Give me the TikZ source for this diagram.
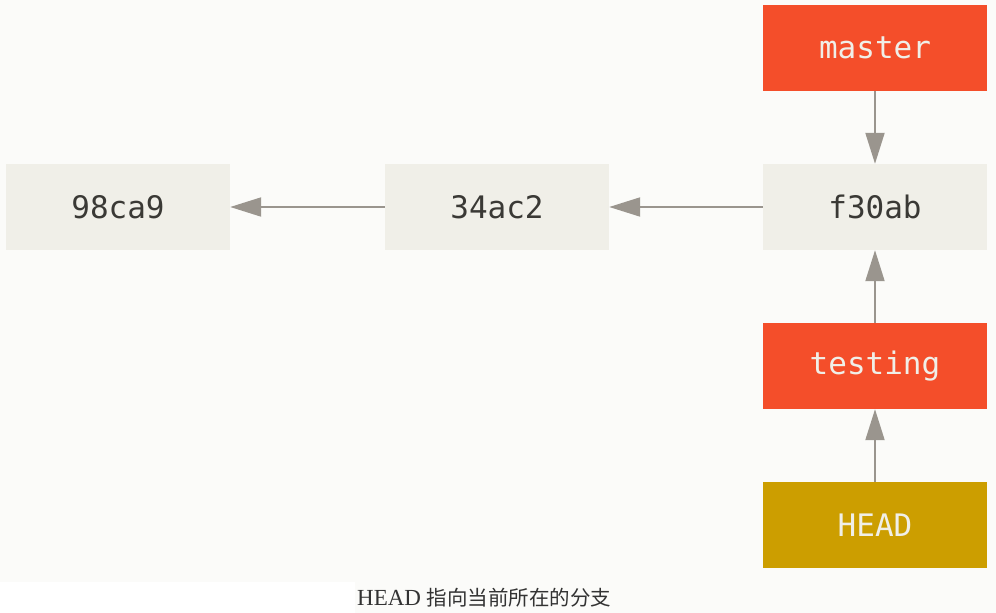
\documentclass[tikz,border=0pt]{standalone}
\usepackage{fontspec}
\setmainfont{Liberation Serif}
\setmonofont{DejaVu Sans Mono}
\newfontfamily\cjk{Noto Sans CJK SC}
\usetikzlibrary{arrows.meta}
\definecolor{bgc}{HTML}{FBFBF9}
\definecolor{commitc}{HTML}{F0EFE8}
\definecolor{branchc}{HTML}{F44E2A}
\definecolor{headc}{HTML}{CC9E00}
\definecolor{darktxt}{HTML}{3A3935}
\definecolor{lighttxt}{HTML}{F0EFE8}
\definecolor{arrowc}{HTML}{9A958E}
\definecolor{captc}{HTML}{333333}
\tikzset{
  box/.style={rectangle, minimum width=224pt, minimum height=86pt, inner sep=0pt, font=\ttfamily\fontsize{31}{31}\selectfont},
  commit/.style={box, fill=commitc, text=darktxt},
  branch/.style={box, fill=branchc, text=lighttxt},
  headbox/.style={box, fill=headc, text=lighttxt},
  link/.style={draw=arrowc, line width=2pt, -{Triangle[length=31pt,width=19pt]}, shorten >=0pt}
}
\begin{document}
\begin{tikzpicture}[x=1pt,y=-1pt]
\fill[bgc] (0,0) rectangle (996,613);
\fill[white] (0,582) rectangle (355,613);
\useasboundingbox (0,0) rectangle (996,613);
\node[commit] (c1) at (118,207) {98ca9};
\node[commit] (c2) at (497,207) {34ac2};
\node[commit] (c3) at (875,207) {f30ab};
\node[branch] (master) at (875,48) {master};
\node[branch] (testing) at (875,366) {testing};
\node[headbox] (head) at (875,525) {HEAD};
\draw[link] (c2.west) -- (c1.east);
\draw[link] (c3.west) -- (c2.east);
\draw[link] (master.south) -- (c3.north);
\draw[link] (testing.north) -- (c3.south);
\draw[link] (head.north) -- (testing.south);
\node[anchor=base west, inner sep=0pt, text=captc, font=\fontsize{23}{23}\selectfont] (cap) at (357,605) {HEAD {\cjk\fontsize{20.5}{21}\selectfont 指向当前所在的分支}};
\end{tikzpicture}
\end{document}
